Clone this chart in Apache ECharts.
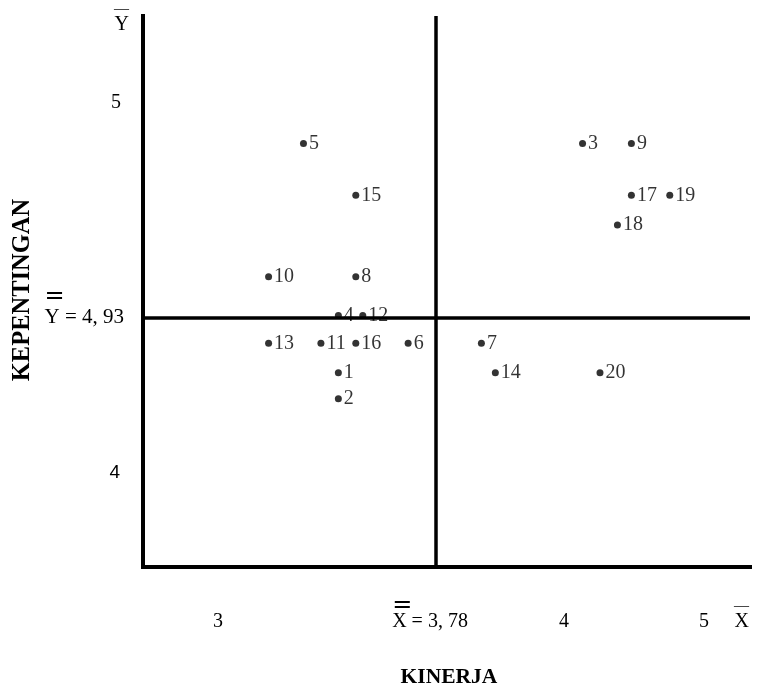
<!DOCTYPE html>
<html>
<head>
<meta charset="utf-8">
<script src="https://cdn.jsdelivr.net/npm/echarts@6/dist/echarts.min.js"></script>
<style>html,body{margin:0;padding:0;background:#fff}#c{width:757px;height:696px}</style>
</head>
<body>
<div id="c"></div>
<script>
// ---- data ----
const pointIds    = ['1','2','3','4','5','6','7','8','9','10','11','12','13','14','15','16','17','18','19','20'];
const kinerja     = [3.50,3.50,4.20,3.50,3.40,3.70,3.91,3.55,4.34,3.30,3.45,3.57,3.30,3.95,3.55,3.55,4.34,4.30,4.45,4.25];
const kepentingan = [4.78,4.71,5.40,4.935,5.40,4.86,4.86,5.04,5.40,5.04,4.86,4.935,4.86,4.78,5.26,4.86,5.26,5.18,5.26,4.78];
const meanX = 3.78;   // X double-bar
const meanY = 4.93;   // Y double-bar
const xTickText = ['3','4','5'];
const yTickText = ['4','5'];
const xAxisTitle = 'KINERJA';
const yAxisTitle = 'KEPENTINGAN';

// ---- layout (the reference is schematic: tick labels are not drawn to scale) ----
const xTickAt = [3.155, 4.147, 4.548];
const yTickAt = [4.509, 5.51];
const SERIF = "'Liberation Serif','Times New Roman',serif";
const fmtMean = v => String(v).replace('.', ', ');
const near = (a, b) => Math.abs(a - b) < 1e-6;

const chart = echarts.init(document.getElementById('c'), null, {renderer: 'canvas'});
chart.setOption({
  backgroundColor: '#fff',
  animation: false,
  grid: {left: 143, right: 7, top: 16, bottom: 129, containLabel: false, outerBoundsMode: 'none'},
  xAxis: {
    type: 'value', min: 2.94, max: 4.68,
    axisLine: {show: true, onZero: false, lineStyle: {color: '#000', width: 4, cap: 'square'}},
    axisTick: {show: false},
    splitLine: {show: false},
    name: '{ov|—}\n{t|X}',
    nameLocation: 'end', nameGap: -1,
    nameTextStyle: {
      align: 'right', verticalAlign: 'top', padding: [34, 0, 0, 0],
      rich: {
        ov: {fontFamily: SERIF, fontSize: 15, lineHeight: 10, align: 'left', color: '#000'},
        t: {fontFamily: SERIF, fontSize: 20, lineHeight: 22, color: '#000'}
      }
    },
    axisLabel: {
      show: true, margin: 34,
      customValues: [xTickAt[0], meanX, xTickAt[1], xTickAt[2]],
      formatter: function (v) {
        if (near(v, meanX)) return '{ov|=}\n{t|X = ' + fmtMean(meanX) + '}{pr| }';
        for (let i = 0; i < xTickAt.length; i++) if (near(v, xTickAt[i])) return '{bl| }\n{t|' + xTickText[i] + '}';
        return '';
      },
      rich: {
        ov: {fontFamily: 'DejaVu Sans', fontSize: 24, lineHeight: 10, align: 'left', color: '#000'},
        bl: {fontSize: 10, lineHeight: 10},
        pr: {width: 12, fontSize: 10, lineHeight: 22},
        t: {fontFamily: SERIF, fontSize: 20, lineHeight: 22, color: '#000'}
      }
    }
  },
  yAxis: {
    type: 'value', min: 4.255, max: 5.745,
    axisLine: {show: true, onZero: false, lineStyle: {color: '#000', width: 4, cap: 'square'}},
    axisTick: {show: false},
    splitLine: {show: false},
    name: '{ov|—}\n{t|Y}',
    nameLocation: 'end', nameGap: 12,
    nameTextStyle: {
      align: 'right', verticalAlign: 'top', padding: [0, 14, 0, 0],
      rich: {
        ov: {fontFamily: SERIF, fontSize: 15, lineHeight: 10, align: 'left', color: '#000'},
        t: {fontFamily: SERIF, fontSize: 20, lineHeight: 22, color: '#000'}
      }
    },
    axisLabel: {
      show: true, margin: 19,
      customValues: [yTickAt[0], meanY, yTickAt[1]],
      formatter: function (v) {
        if (near(v, meanY)) return '{ov|=}\n{tm|Y = ' + fmtMean(meanY) + '}\n{pb| }';
        if (near(v, yTickAt[0])) return '{s|' + yTickText[0] + '}';
        if (near(v, yTickAt[1])) return '{t|' + yTickText[1] + '}';
        return '';
      },
      padding: 0,
      rich: {
        ov: {fontFamily: 'DejaVu Sans', fontSize: 24, lineHeight: 20, align: 'left', color: '#000'},
        pb: {fontSize: 10, lineHeight: 20},
        tm: {fontFamily: SERIF, fontSize: 21, lineHeight: 22, color: '#000'},
        t: {fontFamily: SERIF, fontSize: 20, lineHeight: 22, color: '#000', padding: [0, 3, 0, 0]},
        s: {fontFamily: "'Liberation Sans', Arial, sans-serif", fontSize: 19, lineHeight: 22, color: '#000', padding: [0, 4, 0, 0]}
      }
    }
  },
  series: [{
    type: 'scatter',
    symbol: 'circle', symbolSize: 7,
    itemStyle: {color: '#000'},
    data: kinerja.map((x, i) => ({name: pointIds[i], value: [x, kepentingan[i]]})),
    label: {
      show: true, position: 'right', distance: 2,
      formatter: p => p.name,
      fontFamily: SERIF, fontSize: 20, color: '#000'
    },
    markLine: {
      silent: true, symbol: 'none', animation: false,
      label: {show: false},
      lineStyle: {color: '#000', width: 3.5, type: 'solid'},
      data: [{xAxis: meanX}, {yAxis: meanY}]
    }
  }],
  graphic: [
    {type: 'text', x: 449, y: 677, style: {text: xAxisTitle, align: 'center', verticalAlign: 'middle',
      font: "bold 21.5px 'Liberation Serif','Times New Roman',serif", fill: '#000'}},
    {type: 'text', x: 23, y: 290, rotation: Math.PI / 2, style: {text: yAxisTitle, align: 'center', verticalAlign: 'middle',
      font: "bold 24.5px 'Liberation Serif','Times New Roman',serif", fill: '#000'}}
  ]
});
</script>
</body>
</html>
